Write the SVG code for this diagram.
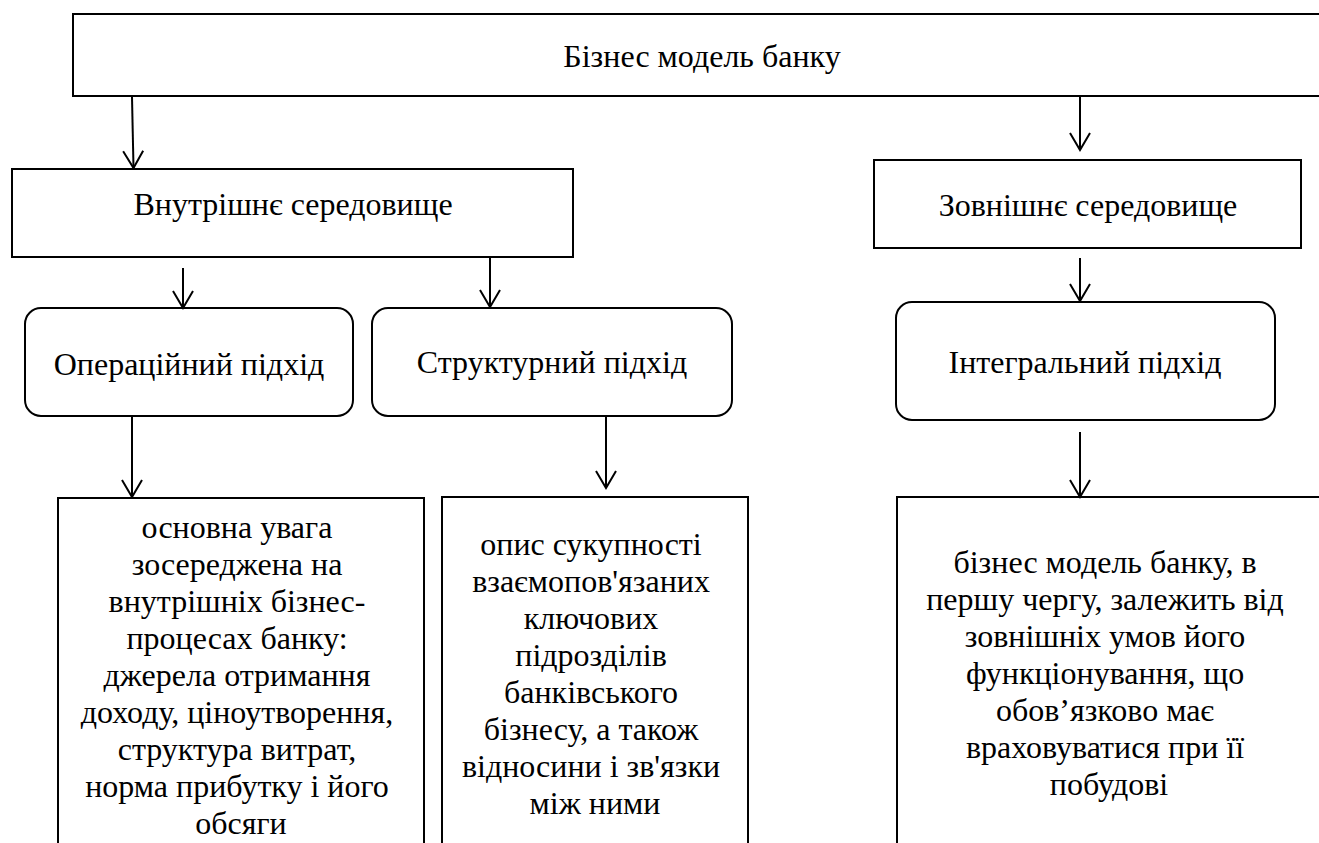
<svg xmlns="http://www.w3.org/2000/svg" width="1319" height="843" viewBox="0 0 1319 843">
<defs>
<style>
.box{fill:#fff;stroke:#000;stroke-width:2}
.t{font-family:'Liberation Serif','Times New Roman',serif;font-size:32px;fill:#000;text-anchor:middle}
.c{stroke:#000;stroke-width:2;fill:none}
</style>
<marker id="arr" markerUnits="userSpaceOnUse" markerWidth="24" markerHeight="24" refX="19" refY="12" orient="auto" viewBox="0 0 24 24">
<path d="M2,2 L19,12 L2,22" fill="none" stroke="#000" stroke-width="2"/>
</marker>
</defs>
<rect width="1319" height="843" fill="#fff"/>
<g id="n-top">
<rect class="box" x="73" y="14" width="1260" height="82"/>
<text class="t" x="702" y="67">Бізнес модель банку</text>
</g>
<g id="n-internal">
<rect class="box" x="12" y="169" width="561" height="88"/>
<text class="t" x="293" y="215">Внутрішнє середовище</text>
</g>
<g id="n-external">
<rect class="box" x="874" y="160" width="427" height="88"/>
<text class="t" x="1088" y="216">Зовнішнє середовище</text>
</g>
<g id="n-oper">
<rect class="box" x="25" y="308" width="328" height="108" rx="16"/>
<text class="t" x="189" y="375">Операційний підхід</text>
</g>
<g id="n-struct">
<rect class="box" x="372" y="308" width="360" height="108" rx="16"/>
<text class="t" x="552" y="373">Структурний підхід</text>
</g>
<g id="n-integral">
<rect class="box" x="896" y="302" width="379" height="118" rx="16"/>
<text class="t" x="1085" y="373">Інтегральний підхід</text>
</g>
<g id="n-oper-desc">
<rect class="box" x="58" y="498" width="366" height="370"/>
<text class="t">
<tspan x="241" y="538">основна увага</tspan>
<tspan x="241" y="575">зосереджена на</tspan>
<tspan x="241" y="612">внутрішніх бізнес-</tspan>
<tspan x="241" y="649">процесах банку:</tspan>
<tspan x="241" y="686">джерела отримання</tspan>
<tspan x="241" y="723">доходу, ціноутворення,</tspan>
<tspan x="241" y="760">структура витрат,</tspan>
<tspan x="241" y="797">норма прибутку і його</tspan>
<tspan x="241" y="834">обсяги</tspan>
</text>
</g>
<g id="n-struct-desc">
<rect class="box" x="442" y="497" width="306" height="370"/>
<text class="t">
<tspan x="595" y="555">опис сукупності</tspan>
<tspan x="595" y="592">взаємопов'язаних</tspan>
<tspan x="595" y="629">ключових</tspan>
<tspan x="595" y="666">підрозділів</tspan>
<tspan x="595" y="703">банківського</tspan>
<tspan x="595" y="740">бізнесу, а також</tspan>
<tspan x="595" y="777">відносини і зв'язки</tspan>
<tspan x="595" y="814">між ними</tspan>
</text>
</g>
<g id="n-integral-desc">
<rect class="box" x="897" y="497" width="440" height="370"/>
<text class="t">
<tspan x="1109" y="573">бізнес модель банку, в</tspan>
<tspan x="1109" y="610">першу чергу, залежить від</tspan>
<tspan x="1109" y="647">зовнішніх умов його</tspan>
<tspan x="1109" y="684">функціонування, що</tspan>
<tspan x="1109" y="721">обов’язково має</tspan>
<tspan x="1109" y="758">враховуватися при її</tspan>
<tspan x="1109" y="795">побудові</tspan>
</text>
</g>
<g id="connectors">
<line class="c" x1="132" y1="97" x2="133.5" y2="168" marker-end="url(#arr)"/>
<line class="c" x1="1080" y1="97" x2="1080" y2="150" marker-end="url(#arr)"/>
<line class="c" x1="183" y1="268" x2="183" y2="308" marker-end="url(#arr)"/>
<line class="c" x1="490" y1="258" x2="490" y2="307" marker-end="url(#arr)"/>
<line class="c" x1="1080" y1="258" x2="1080" y2="301" marker-end="url(#arr)"/>
<line class="c" x1="132" y1="417" x2="132" y2="497" marker-end="url(#arr)"/>
<line class="c" x1="606" y1="417" x2="606" y2="488" marker-end="url(#arr)"/>
<line class="c" x1="1080" y1="432" x2="1080" y2="497" marker-end="url(#arr)"/>
</g>
</svg>
